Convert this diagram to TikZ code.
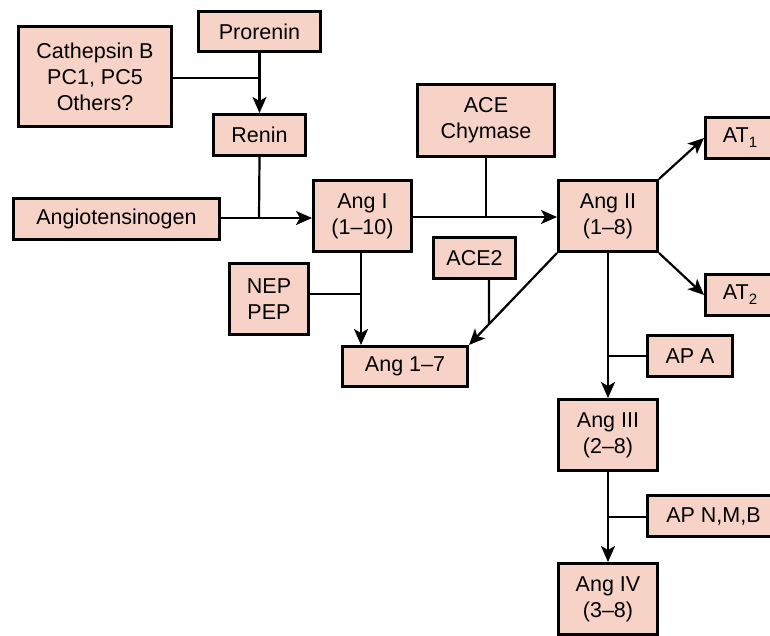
\documentclass[tikz,border=0pt]{standalone}
\usepackage{fontspec}
\setmainfont{Liberation Sans}
\usetikzlibrary{arrows.meta,calc}
\definecolor{boxfill}{RGB}{247,211,199}
\newcommand{\subone}[1]{\raisebox{-5pt}{\fontsize{15}{15}\selectfont #1}}
\begin{document}
\begin{tikzpicture}[x=1pt,y=-1pt,
  box/.style={draw=black,line width=3pt,fill=boxfill,inner sep=0pt,align=center,
    font=\fontsize{21.5}{26}\selectfont},
  conn/.style={line width=2.2pt},
  arr/.style={conn,-{Stealth[length=16pt,width=14pt,inset=4pt]}}]
\useasboundingbox (0,0) rectangle (770,635);
\clip (0,0) rectangle (770,635);
\fill[white] (0,0) rectangle (770,635);
% boxes
\node[box,minimum width=122pt,minimum height=40pt] (pro) at (259.5,31.5) {Prorenin};
\node[box,minimum width=153pt,minimum height=100pt] (cat) at (95,76.5) {Cathepsin B\\PC1, PC5\\Others?};
\node[box,minimum width=92pt,minimum height=41pt] (ren) at (259.5,135) {Renin};
\node[box,minimum width=206pt,minimum height=41pt] (agt) at (116.5,219) {Angiotensinogen};
\node[box,minimum width=98pt,minimum height=71pt] (ang1) at (362.5,216) {Ang I\\(1–10)};
\node[box,minimum width=137pt,minimum height=72pt] (ace) at (486,120.5) {ACE\\Chymase};
\node[box,minimum width=99pt,minimum height=71pt] (ang2) at (608,216) {Ang II\\(1–8)};
\node[box,minimum width=69pt,minimum height=41pt] (at1) at (740,138) {AT\subone{1}};
\node[box,minimum width=69pt,minimum height=41pt] (at2) at (740,295) {AT\subone{2}};
\node[box,minimum width=82pt,minimum height=41pt] (ace2) at (474.5,258) {ACE2};
\node[box,minimum width=79pt,minimum height=71pt] (nep) at (269,299) {NEP\\PEP};
\node[box,minimum width=125pt,minimum height=40pt] (a17) at (405,366.5) {Ang 1–7};
\node[box,minimum width=85pt,minimum height=41pt] (apa) at (690,356) {AP A};
\node[box,minimum width=99pt,minimum height=71pt] (ang3) at (608,435) {Ang III\\(2–8)};
\node[box,minimum width=132pt,minimum height=41pt] (apn) at (713.5,516) {AP N,M,B};
\node[box,minimum width=99pt,minimum height=71pt] (ang4) at (608,599) {Ang IV\\(3–8)};
% connectors
\coordinate (j1) at (259,78);
\coordinate (j2) at (259,218);
\coordinate (j3) at (486,217);
\coordinate (j4) at (361,294);
\coordinate (acex) at (489,400);
\coordinate (j6) at (608,356);
\coordinate (j7) at (608,517);
\draw[arr] (pro.south) -- (ren.north);
\draw[conn] (cat.east |- j1) -- (j1);
\draw[conn] (ren.south) -- (j2);
\draw[arr] (agt.east |- j2) -- (ang1.west |- j2);
\draw[conn] (ace.south) -- (j3);
\draw[arr] (ang1.east |- j3) -- (ang2.west |- j3);
\draw[arr] (ang2.north east) -- (at1.west);
\draw[arr] (ang2.south east) -- (at2.west);
\draw[arr] (ang2.south west) -- (a17.north east);
\draw[conn] (ace2.south -| acex) -- (intersection of ang2.south west--a17.north east and ace2.south-|acex--acex);
\draw[arr] (ang1.south -| j4) -- (a17.north -| j4);
\draw[conn] (nep.east |- j4) -- (j4);
\draw[arr] (ang2.south) -- (ang3.north);
\draw[conn] (apa.west |- j6) -- (j6);
\draw[arr] (ang3.south) -- (ang4.north);
\draw[conn] (apn.west |- j7) -- (j7);
\end{tikzpicture}
\end{document}
